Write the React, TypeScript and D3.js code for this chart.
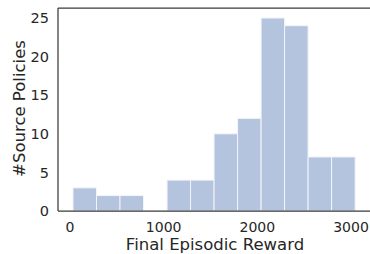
import { useEffect, useRef } from 'react';
import * as d3 from 'd3';

// histogram bins (left edges) and counts
const binStart = 32;
const binWidth = 251;
const counts = [3, 2, 2, 0, 4, 4, 10, 12, 25, 24, 7, 7];
const xTicks = [0, 1000, 2000, 3000];
const yTicks = [0, 5, 10, 15, 20, 25];

const W = 370;
const H = 254;
const FONT = 'DejaVu Sans, sans-serif';
const INK = '#262626';

export default function App() {
  const svgRef = useRef<SVGSVGElement>(null);

  useEffect(() => {
    if (!svgRef.current) return;
    const svg = d3.select(svgRef.current);
    svg.selectAll('*').remove();

    const x = d3.scaleLinear().domain([0, 3000]).range([70, 351]);
    const y = d3.scaleLinear().domain([0, 25]).range([211, 18]);

    const left = 58;
    const right = 374;
    const top = 8;
    const bottom = y(0);

    const bins = counts.map((c, i) => ({
      x0: binStart + i * binWidth,
      x1: binStart + (i + 1) * binWidth,
      count: c,
    }));

    // bars
    svg.append('g')
      .selectAll('rect')
      .data(bins.filter(b => b.count > 0))
      .join('rect')
      .attr('x', d => x(d.x0))
      .attr('width', d => x(d.x1) - x(d.x0))
      .attr('y', d => y(d.count))
      .attr('height', d => y(0) - y(d.count))
      .attr('fill', '#b4c4de')
      .attr('stroke', '#f2f4f8')
      .attr('stroke-width', 1);

    // spines
    const spine = svg.append('g')
      .attr('stroke', '#3a3a3a')
      .attr('stroke-width', 1.25)
      .attr('fill', 'none');
    spine.append('line').attr('x1', left).attr('x2', left).attr('y1', top).attr('y2', bottom);
    spine.append('line').attr('x1', left).attr('x2', right).attr('y1', bottom).attr('y2', bottom);
    spine.append('line').attr('x1', left).attr('x2', right).attr('y1', top).attr('y2', top);

    // tick labels
    svg.append('g')
      .selectAll('text')
      .data(xTicks)
      .join('text')
      .attr('x', d => x(d))
      .attr('y', 231.5)
      .attr('text-anchor', 'middle')
      .style('font-family', FONT)
      .style('font-size', '14px')
      .style('fill', INK)
      .text(d => String(d));

    svg.append('g')
      .selectAll('text')
      .data(yTicks)
      .join('text')
      .attr('x', 49)
      .attr('y', d => y(d))
      .attr('dy', '0.36em')
      .attr('text-anchor', 'end')
      .style('font-family', FONT)
      .style('font-size', '14.5px')
      .style('fill', INK)
      .text(d => String(d));

    // axis labels
    svg.append('text')
      .attr('x', 215)
      .attr('y', 250.3)
      .attr('text-anchor', 'middle')
      .style('font-family', FONT)
      .style('font-size', '16.5px')
      .style('fill', INK)
      .text('Final Episodic Reward');

    svg.append('text')
      .attr('transform', 'translate(25,108.5) rotate(-90)')
      .attr('text-anchor', 'middle')
      .style('font-family', FONT)
      .style('font-size', '16.5px')
      .style('fill', INK)
      .text('#Source Policies');
  }, []);

  return (
    <div style={{ position: 'fixed', left: 0, top: 0, background: '#fff' }}>
      <svg ref={svgRef} width={W} height={H} style={{ display: 'block' }} />
    </div>
  );
}
